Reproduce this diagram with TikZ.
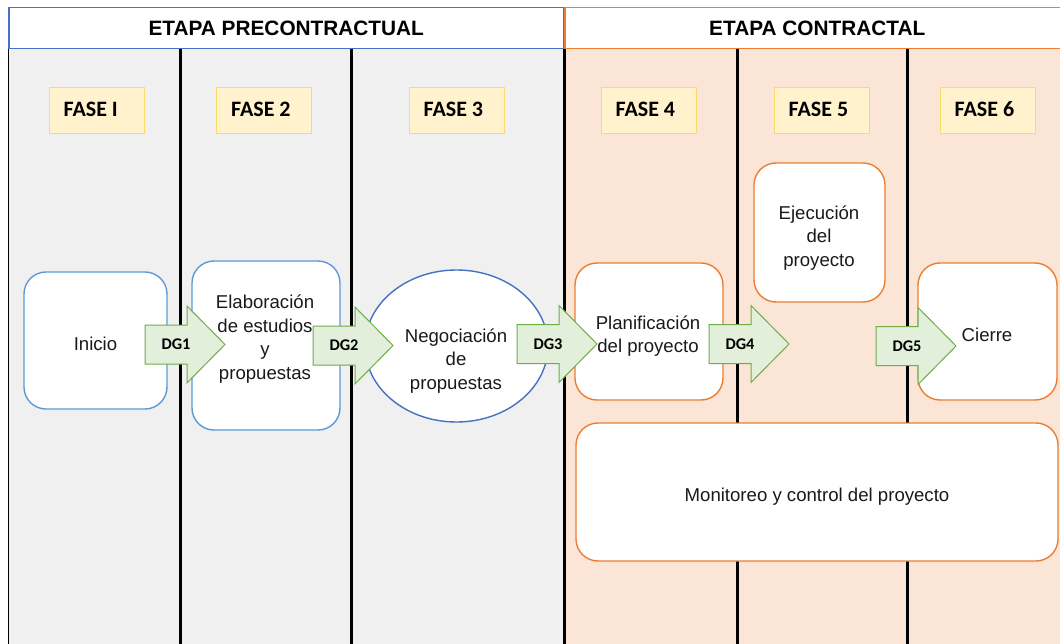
\documentclass[tikz,border=0pt]{standalone}
\usepackage{fontspec}
\setmainfont{Liberation Sans}
\newfontfamily\calibri{Carlito}
\usetikzlibrary{shapes.geometric,calc}

\definecolor{preback}{HTML}{F0F0F0}
\definecolor{conback}{HTML}{FBE5D6}
\definecolor{blueline}{HTML}{4472C4}
\definecolor{lightblue}{HTML}{5B9BD5}
\definecolor{orangeline}{HTML}{ED7D31}
\definecolor{faseback}{HTML}{FFF2CC}
\definecolor{faseline}{HTML}{FFD966}
\definecolor{arrowfill}{HTML}{E2EFDA}
\definecolor{arrowline}{HTML}{70AD47}
\definecolor{textgray}{HTML}{1A1A1A}

% block arrow "decision gate": name, left x, centre y, label
\newcommand{\dgarrow}[4]{%
  \coordinate (#1) at (#2,#3);
  \draw[dgshape] ($(#1)+(0,-19.5)$) -- ++(42,0) -- ++(0,-19) -- ++(38,38.5)
     -- ++(-38,38.5) -- ++(0,-19) -- ++(-42,0) -- cycle;
  \node[dglabel] (#1-lbl) at ($(#1)+(31,0)$) {#4};%
}

\begin{document}
\begin{tikzpicture}[x=1pt,y=-1pt,
  headbox/.style={line width=1.5pt, fill=white, anchor=north west,
    minimum height=41pt, inner sep=0pt,
    font=\fontsize{20.8}{24}\selectfont\bfseries},
  fasebox/.style={draw=faseline, fill=faseback, line width=1pt,
    minimum width=95pt, minimum height=46pt, inner sep=0pt},
  fasetext/.style={anchor=west, inner sep=0pt,
    font=\calibri\fontsize{22}{26}\selectfont\bfseries},
  lane/.style={line width=3pt, black},
  stepbox/.style={draw, fill=white, line width=1.4pt, rounded corners=22pt,
    inner sep=0pt},
  bluebox/.style={stepbox, draw=lightblue},
  orangebox/.style={stepbox, draw=orangeline},
  steptext/.style={align=center, inner sep=0pt, text=textgray,
    font=\fontsize{18.6}{23.5}\selectfont},
  dgshape/.style={draw=arrowline, fill=arrowfill, line width=1pt, line join=miter},
  dglabel/.style={inner sep=0pt, font=\calibri\fontsize{16.3}{19}\selectfont\bfseries}
]
\useasboundingbox (0,0) rectangle (1060,644);

% lane backgrounds
\fill[preback] (8,48) rectangle (564,644);
\fill[conback] (564,48) rectangle (1062,644);
\draw[line width=0.8pt] (8,48) -- (8,644);

% lane separators
\foreach \x in {180,351,564,737,907}
  \draw[lane] (\x,48) -- (\x,644);

% stage headers
\node[headbox, draw=blueline, minimum width=555pt] (hpre) at (8,7) {ETAPA PRECONTRACTUAL};
\node[headbox, draw=orangeline, minimum width=505pt] (hcon) at (564,7) {ETAPA CONTRACTAL};

% phase labels
\foreach \n/\x/\t in {f1/96.5/FASE I, f2/264/FASE 2, f3/456.5/FASE 3,
                      f4/648.5/FASE 4, f5/821.5/FASE 5, f6/987.5/FASE 6} {
  \node[fasebox] (\n) at (\x,110.5) {};
  \node[fasetext] (\n-t) at ($(\n.west)+(15,-1.5)$) {\t};
}

% process steps
\node[bluebox, minimum width=143pt, minimum height=137pt] (inicio) at (95.5,340.5) {};
\node[bluebox, minimum width=148pt, minimum height=169pt] (elab) at (266,345.5) {};
\node[ellipse, draw=blueline, fill=white, line width=1.4pt,
      minimum width=183pt, minimum height=152pt, inner sep=0pt] (nego) at (456.5,346) {};
\node[orangebox, minimum width=148pt, minimum height=137pt] (plan) at (649,331.5) {};
\node[orangebox, minimum width=131pt, minimum height=139pt] (ejec) at (819.5,232.5) {};
\node[orangebox, minimum width=139pt, minimum height=137pt] (cierre) at (987.5,331.5) {};
\node[orangebox, minimum width=482pt, minimum height=138pt] (monit) at (817,492) {};

% step texts
\node[steptext] (inicio-t) at (95.5,344) {Inicio};
\node[steptext] (elab-t) at (265,339) {Elaboración\\de estudios\\y\\propuestas};
\node[steptext] (nego-t) at (456,361) {Negociación\\de\\propuestas};
\node[steptext] (plan-t) at (648,336) {Planificación\\del proyecto};
\node[steptext] (ejec-t) at (819,238) {Ejecución\\del\\proyecto};
\node[steptext] (cierre-t) at (987,335) {Cierre};
\node[steptext] (monit-t) at (817,497) {Monitoreo y control del proyecto};

% decision gates between phases
\dgarrow{dg1}{145}{344.5}{DG1}
\dgarrow{dg2}{313}{345.5}{DG2}
\dgarrow{dg3}{517}{344}{DG3}
\dgarrow{dg4}{709}{344}{DG4}
\dgarrow{dg5}{876}{346}{DG5}
\end{tikzpicture}
\end{document}
